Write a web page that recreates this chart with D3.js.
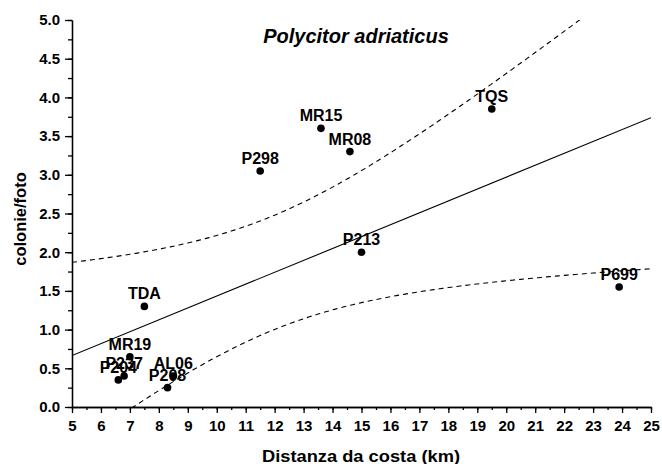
<!DOCTYPE html>
<html>
<head>
<meta charset="utf-8">
<script src="https://cdn.jsdelivr.net/npm/d3@7"></script>
<style>
    body { margin: 0; background: #fff; }
    svg { display: block; font-family: Arial, "Liberation Sans", sans-serif; }
    .axis path, .axis line { stroke: #000; stroke-width: 1.3; }
    .axis text { font-size: 15px; font-weight: bold; fill: #000; }
</style>
</head>
<body>
<svg id="chart" width="662" height="464"></svg>
<script>
// dati: stazioni, distanza da costa (km) e colonie/foto
var stations = ['TQS', 'MR15', 'MR08', 'P298', 'P213', 'P699', 'TDA', 'MR19', 'P237', 'P204', 'AL06', 'P208'];
var distance = [19.5, 13.6, 14.6, 11.5, 15.0, 23.9, 7.5, 7.0, 6.8, 6.6, 8.5, 8.3];
var colonies = [3.85, 3.6, 3.3, 3.05, 2.0, 1.55, 1.3, 0.65, 0.4, 0.35, 0.4, 0.25];

var xTicks = [5, 6, 7, 8, 9, 10, 11, 12, 13, 14, 15, 16, 17, 18, 19, 20, 21, 22, 23, 24, 25];
var yTicks = [0, 0.5, 1.0, 1.5, 2.0, 2.5, 3.0, 3.5, 4.0, 4.5, 5.0];

var svg = d3.select('#chart');
var x = d3.scaleLinear().domain([5, 25]).range([72, 651]);
var y = d3.scaleLinear().domain([0, 5]).range([407, 20]);

// clip sull'area del grafico
svg.append('clipPath').attr('id', 'plot')
    .append('rect')
    .attr('x', x(5)).attr('y', y(5))
    .attr('width', x(25) - x(5)).attr('height', y(0) - y(5));

// regressione lineare + intervallo di confidenza 95%
var n = distance.length;
var mx = d3.mean(distance), my = d3.mean(colonies);
var sxx = d3.sum(distance, function (d) { return (d - mx) * (d - mx); });
var sxy = d3.sum(distance, function (d, i) { return (d - mx) * (colonies[i] - my); });
var b = sxy / sxx, a = my - b * mx;
var sse = d3.sum(distance, function (d, i) { var r = colonies[i] - (a + b * d); return r * r; });
var s = Math.sqrt(sse / (n - 2));
var t = 2.228; // t(0.975, 10)
var band = function (xv, sign) {
    var se = s * Math.sqrt(1 / n + (xv - mx) * (xv - mx) / sxx);
    return a + b * xv + sign * t * se;
};
var xs = d3.range(5, 25.001, 0.1);

var g = svg.append('g').attr('clip-path', 'url(#plot)');
g.append('line')
    .attr('x1', x(5)).attr('y1', y(a + b * 5))
    .attr('x2', x(25)).attr('y2', y(a + b * 25))
    .attr('stroke', '#000').attr('stroke-width', 1.1);

[1, -1].forEach(function (sign) {
    var line = d3.line()
        .x(function (d) { return x(d); })
        .y(function (d) { return y(band(d, sign)); });
    g.append('path')
        .attr('d', line(xs))
        .attr('fill', 'none')
        .attr('stroke', '#000')
        .attr('stroke-width', 1.1)
        .attr('stroke-dasharray', '5,4');
});

// assi (tacche maggiori e minori)
svg.append('g').attr('class', 'axis')
    .attr('transform', 'translate(0,' + y(0) + ')')
    .call(d3.axisBottom(x).tickValues(d3.range(5, 25.01, 0.5)).tickSize(3).tickFormat('').tickSizeOuter(0));
svg.append('g').attr('class', 'axis')
    .attr('transform', 'translate(0,' + y(0) + ')')
    .call(d3.axisBottom(x).tickValues(xTicks).tickSize(6).tickPadding(7).tickFormat(d3.format('d')).tickSizeOuter(0));
svg.append('g').attr('class', 'axis')
    .attr('transform', 'translate(' + x(5) + ',0)')
    .call(d3.axisLeft(y).tickValues(d3.range(0, 5.01, 0.25)).tickSize(4).tickFormat('').tickSizeOuter(0));
svg.append('g').attr('class', 'axis')
    .attr('transform', 'translate(' + x(5) + ',0)')
    .call(d3.axisLeft(y).tickValues(yTicks).tickSize(7).tickPadding(5).tickFormat(d3.format('.1f')).tickSizeOuter(0));

// punti ed etichette
svg.selectAll('circle.pt')
    .data(distance)
    .enter()
    .append('circle')
    .attr('class', 'pt')
    .attr('cx', function (d) { return x(d); })
    .attr('cy', function (d, i) { return y(colonies[i]); })
    .attr('r', 3.8)
    .attr('fill', '#000');

svg.selectAll('text.lab')
    .data(stations)
    .enter()
    .append('text')
    .attr('class', 'lab')
    .attr('x', function (d, i) { return x(distance[i]); })
    .attr('y', function (d, i) { return y(colonies[i]) - 7; })
    .attr('text-anchor', 'middle')
    .style('font-size', '16px')
    .style('font-weight', 'bold')
    .text(function (d) { return d; });

// titoli
svg.append('text')
    .attr('x', 356).attr('y', 43)
    .attr('text-anchor', 'middle')
    .style('font-size', '20px').style('font-weight', 'bold').style('font-style', 'italic')
    .text('Polycitor adriaticus');

svg.append('text')
    .attr('x', 361).attr('y', 461.5)
    .attr('text-anchor', 'middle')
    .attr('textLength', 198)
    .attr('lengthAdjust', 'spacingAndGlyphs')
    .style('font-size', '16.5px').style('font-weight', 'bold')
    .text('Distanza da costa (km)');

svg.append('text')
    .attr('transform', 'translate(25.5,219) rotate(-90)')
    .attr('text-anchor', 'middle')
    .style('font-size', '16.5px').style('font-weight', 'bold')
    .text('colonie/foto');
</script>
</body>
</html>
